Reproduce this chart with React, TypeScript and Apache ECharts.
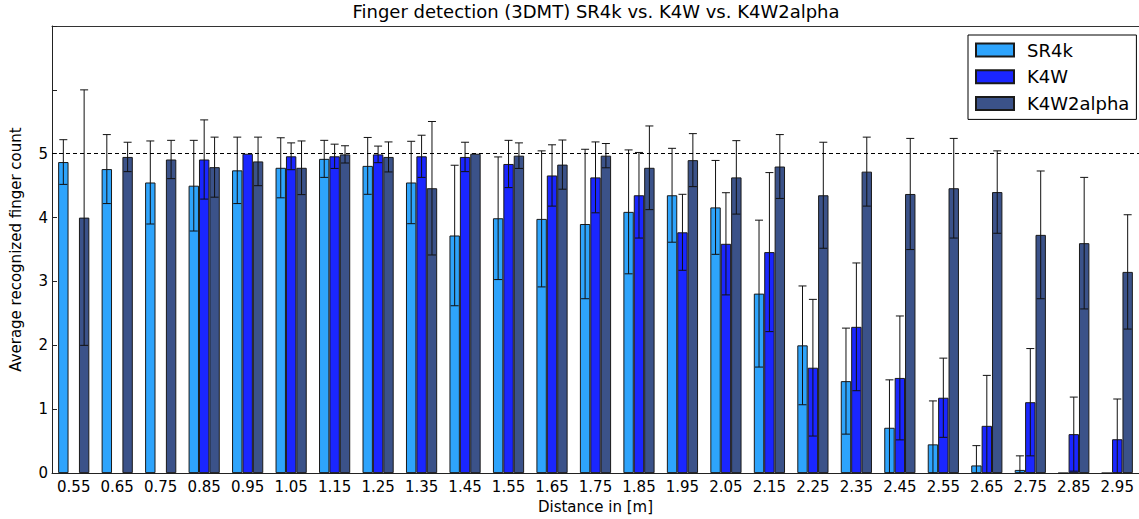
import React, { useEffect, useRef } from 'react';
import * as echarts from 'echarts';

const distances = ['0.55', '0.65', '0.75', '0.85', '0.95', '1.05', '1.15', '1.25', '1.35', '1.45', '1.55', '1.65', '1.75', '1.85', '1.95', '2.05', '2.15', '2.25', '2.35', '2.45', '2.55', '2.65', '2.75', '2.85', '2.95'];

const sr4kMean = [4.87, 4.76, 4.55, 4.50, 4.74, 4.78, 4.92, 4.81, 4.55, 3.72, 3.99, 3.98, 3.90, 4.09, 4.35, 4.16, 2.81, 2.00, 1.44, 0.71, 0.45, 0.12, 0.05, 0, 0];
const sr4kErr = [0.35, 0.54, 0.65, 0.71, 0.52, 0.47, 0.29, 0.445, 0.645, 1.1, 0.96, 1.065, 1.17, 0.97, 0.735, 0.735, 1.15, 0.93, 0.83, 0.75, 0.68, 0.31, 0.22, 0, 0];

const k4wMean = [null, null, null, 4.91, 5.0, 4.96, 4.96, 4.99, 4.96, 4.95, 4.84, 4.66, 4.63, 4.35, 3.77, 3.59, 3.46, 1.65, 2.29, 1.49, 1.18, 0.74, 1.11, 0.61, 0.53];
const k4wErr = [0, 0, 0, 0.62, 0, 0.21, 0.19, 0.13, 0.33, 0.23, 0.37, 0.48, 0.555, 0.67, 0.595, 0.8, 1.245, 1.07, 1.0, 0.97, 0.62, 0.79, 0.84, 0.58, 0.63];

const k4w2Mean = [4.0, 4.95, 4.91, 4.79, 4.88, 4.78, 4.99, 4.95, 4.46, 5.0, 4.97, 4.83, 4.97, 4.78, 4.90, 4.63, 4.80, 4.35, 4.72, 4.37, 4.46, 4.40, 3.73, 3.60, 3.15];
const k4w2Err = [2.0, 0.23, 0.3, 0.47, 0.38, 0.42, 0.135, 0.235, 1.045, 0, 0.2, 0.385, 0.19, 0.655, 0.415, 0.575, 0.5, 0.83, 0.54, 0.87, 0.78, 0.645, 1.0, 1.03, 0.895];

const yTicks = [0, 1, 2, 3, 4, 5];
const referenceLevel = 5;

const FONT = 'DejaVu Sans';
const BAR_W = 10.4;
const CAP = 8;
const colors = ['#2ea4fc', '#1a26ff', '#3b5289'];
const names = ['SR4k', 'K4W', 'K4W2alpha'];

function errSeries(means: (number | null)[], errs: number[], k: number) {
  return {
    type: 'custom',
    clip: true,
    z: 5,
    silent: true,
    encode: { x: 0, y: 1 },
    data: means.map((v, i) => [i, v == null ? 0 : v, v == null ? 0 : errs[i]]),
    renderItem: (params: any, api: any) => {
      const i = api.value(0);
      const v = api.value(1);
      const e = api.value(2);
      if (!e) return null;
      const hi = api.coord([i, v + e]);
      const lo = api.coord([i, v - e]);
      const x = hi[0] + (k - 1) * BAR_W;
      const h = CAP / 2;
      const style = { stroke: '#111', lineWidth: 1 };
      return {
        type: 'group',
        children: [
          { type: 'line', shape: { x1: x, y1: hi[1], x2: x, y2: lo[1] }, style },
          { type: 'line', shape: { x1: x - h, y1: hi[1], x2: x + h, y2: hi[1] }, style },
          { type: 'line', shape: { x1: x - h, y1: lo[1], x2: x + h, y2: lo[1] }, style },
        ],
      };
    },
  };
}

export default function App() {
  const ref = useRef<HTMLDivElement>(null);
  useEffect(() => {
    const chart = echarts.init(ref.current!, null, { renderer: 'svg' });
    const means = [sr4kMean, k4wMean, k4w2Mean];
    const errs = [sr4kErr, k4wErr, k4w2Err];
    const barSeries = means.map((m, k) => ({
      type: 'bar',
      name: names[k],
      data: m.map((v) => (v == null ? '-' : v)),
      barWidth: BAR_W,
      barGap: '0%',
      itemStyle: { color: colors[k], borderColor: '#1a1a1a', borderWidth: 1 },
      ...(k === 0
        ? {
            markLine: {
              silent: true,
              symbol: 'none',
              label: { show: false },
              lineStyle: { type: [4, 3], color: '#000', width: 1 },
              data: [{ yAxis: referenceLevel }],
              z: 10,
            },
          }
        : {}),
    }));
    const option: any = {
      animation: false,
      textStyle: { fontFamily: FONT },
      title: {
        text: 'Finger detection (3DMT) SR4k vs. K4W vs. K4W2alpha',
        left: 596,
        top: 2,
        padding: 0,
        textAlign: 'center',
        textStyle: { fontFamily: FONT, fontSize: 18, fontWeight: 'normal', color: '#000' },
      },
      legend: {
        data: names,
        orient: 'vertical',
        left: 968,
        top: 35,
        padding: [6, 7, 7, 7],
        itemWidth: 38,
        itemHeight: 13,
        itemGap: 8.7,
        icon: 'rect',
        borderColor: '#000',
        borderWidth: 1,
        backgroundColor: '#fff',
        textStyle: { fontFamily: FONT, fontSize: 18, color: '#000', padding: [0, 0, 0, 8] },
      },
      grid: { left: 46, right: -7, top: 26, bottom: 42 },
      xAxis: [
        {
          type: 'category',
          data: distances,
          position: 'bottom',
          name: 'Distance in [m]',
          nameLocation: 'middle',
          nameGap: 24,
          nameTextStyle: { fontFamily: FONT, fontSize: 15, color: '#000' },
          axisLine: { lineStyle: { color: '#222', width: 1 } },
          axisTick: { inside: true, length: 5, alignWithLabel: true, lineStyle: { color: '#222' } },
          axisLabel: { fontFamily: FONT, fontSize: 15, color: '#000', margin: 6, interval: 0 },
          splitLine: { show: false },
        },
        {
          type: 'category',
          data: distances,
          position: 'top',
          axisLine: { lineStyle: { color: '#333', width: 1 } },
          axisTick: { inside: true, length: 5, alignWithLabel: true, lineStyle: { color: '#333' } },
          axisLabel: { show: false },
          splitLine: { show: false },
        },
      ],
      yAxis: {
        type: 'value',
        min: 0,
        max: 7,
        interval: 1,
        name: 'Average recognized finger count',
        nameLocation: 'middle',
        nameGap: 29,
        nameTextStyle: { fontFamily: FONT, fontSize: 15, color: '#000' },
        axisLine: { show: true, lineStyle: { color: '#222', width: 1 } },
        axisTick: { show: true, inside: true, length: 5, lineStyle: { color: '#222' } },
        axisLabel: {
          fontFamily: FONT,
          fontSize: 15,
          color: '#000',
          margin: 4,
          formatter: (v: number) => (yTicks.includes(v) ? String(v) : ''),
        },
        splitLine: { show: false },
      },
      series: [
        ...barSeries,
        ...means.map((m, k) => errSeries(m, errs[k], k)),
      ],
    };
    chart.setOption(option);
    return () => chart.dispose();
  }, []);
  return <div ref={ref} style={{ position: 'absolute', left: 0, top: 0, width: 1139, height: 519 }} />;
}
